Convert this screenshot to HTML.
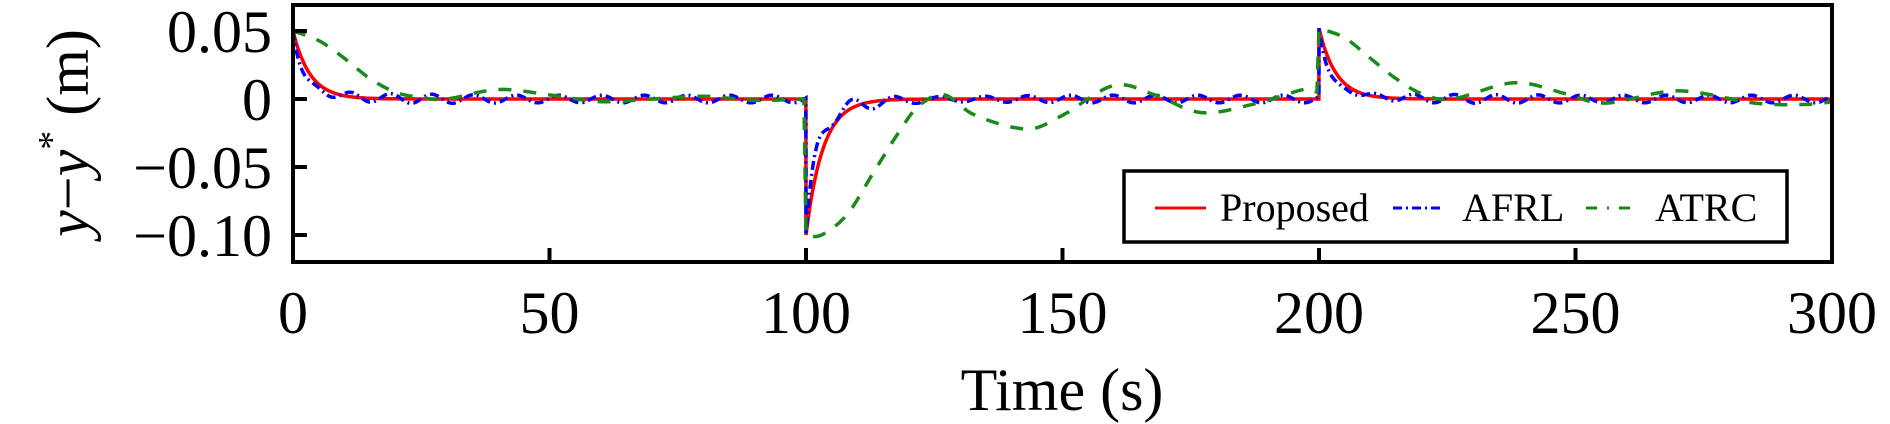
<!DOCTYPE html>
<html><head><meta charset="utf-8">
<style>
html,body{margin:0;padding:0;background:#fff;}
svg{display:block;font-family:"Liberation Serif","Times New Roman",serif;}
</style></head>
<body>
<svg id="c" width="1890" height="424" viewBox="0 0 1890 424" xmlns="http://www.w3.org/2000/svg">
<g id="series"></g>
<rect x="293" y="5" width="1539" height="257" fill="none" stroke="#000" stroke-width="4"/>
<g stroke="#000" stroke-width="4">
<line x1="293" y1="31" x2="307" y2="31"/><line x1="293" y1="99" x2="307" y2="99"/>
<line x1="293" y1="167" x2="307" y2="167"/><line x1="293" y1="235" x2="307" y2="235"/>
<line x1="549.5" y1="262" x2="549.5" y2="248"/><line x1="806" y1="262" x2="806" y2="248"/>
<line x1="1062.5" y1="262" x2="1062.5" y2="248"/><line x1="1319" y1="262" x2="1319" y2="248"/>
<line x1="1575.5" y1="262" x2="1575.5" y2="248"/>
</g>
<g font-size="60" text-anchor="end" fill="#000">
<text x="272" y="52">0.05</text>
<text x="272" y="120">0</text>
<text x="272" y="188">−0.05</text>
<text x="272" y="256">−0.10</text>
</g>
<g font-size="60" text-anchor="middle" fill="#000">
<text x="293" y="333">0</text>
<text x="549.5" y="333">50</text>
<text x="806" y="333">100</text>
<text x="1062.5" y="333">150</text>
<text x="1319" y="333">200</text>
<text x="1575.5" y="333">250</text>
<text x="1832" y="333">300</text>
<text x="1062" y="410">Time (s)</text>
</g>
<text transform="translate(88,133) rotate(-90)" font-size="60" text-anchor="middle" fill="#000"><tspan font-style="italic">y</tspan>−<tspan font-style="italic">y</tspan><tspan font-size="38" dy="-24">*</tspan><tspan dy="24"> (m)</tspan></text>
<rect x="1124" y="171" width="663" height="71" fill="#fff" stroke="#000" stroke-width="3.5"/>
<line x1="1155" y1="208" x2="1206" y2="208" stroke="#ff0000" stroke-width="3"/>
<text x="1220" y="221" font-size="40">Proposed</text>
<line x1="1393" y1="208" x2="1444" y2="208" stroke="#0000ff" stroke-width="3" stroke-dasharray="9,4,2,4"/>
<text x="1462" y="221" font-size="40">AFRL</text>
<line x1="1586" y1="208" x2="1638" y2="208" stroke="#1a8a1a" stroke-width="3" stroke-dasharray="11,10,2,10"/>
<text x="1655" y="221" font-size="40">ATRC</text>
</svg>
<script>
(function(){
var X=function(t){return 293+t*1539/300;};
var Y=function(v){return 99-v*1360;};
function seg(t){ if(t<100) return [0.05,t]; if(t<200) return [-0.1,t-100]; return [0.052,t-200]; }
function prop(t){var a=seg(t);return a[0]*Math.exp(-a[1]/3.3);}
function afrl(t){var a=seg(t),A=a[0],s=a[1];
 var base=A*(0.75*Math.exp(-s/1.6)+0.25*Math.exp(-s/6));
 return base+A*0.08*Math.exp(-s/14)*Math.sin(2*Math.PI*(s-3)/7.5)*(1-Math.exp(-s/3))+0.0028*Math.sin(2*Math.PI*t/8.3)*(1-Math.exp(-s/5));}
var K=[[0,0.05],[5,0.043],[10,0.03],[15,0.015],[20,0.005],[25,0.001],[30,0],[40,0.007],[50,0.003],[60,-0.002],[70,0.0],[80,0.002],[90,-0.001],[99.6,0],
 null,[100,-0.1],[103,-0.1],[108,-0.085],[113,-0.055],[118,-0.025],[122,-0.005],[127,0.003],[133,-0.012],[143,-0.022],[150,-0.012],[160,0.01],[168,0.003],[177,-0.01],[187,-0.004],[197,0.007],[199.6,0.005],
 null,[200,0.052],[205,0.045],[210,0.03],[215,0.015],[220,0.004],[226,0.0],[238,0.012],[248,0.004],[256,-0.003],[270,0.006],[285,-0.003],[295,-0.004],[300,-0.002]];
function cr(pts){var out=[];for(var i=0;i<pts.length-1;i++){var p0=pts[Math.max(0,i-1)],p1=pts[i],p2=pts[i+1],p3=pts[Math.min(pts.length-1,i+2)];
 for(var k=0;k<10;k++){var u=k/10,u2=u*u,u3=u2*u;
  var f=function(j){return 0.5*((2*p1[j])+(-p0[j]+p2[j])*u+(2*p0[j]-5*p1[j]+4*p2[j]-p3[j])*u2+(-p0[j]+3*p1[j]-3*p2[j]+p3[j])*u3);};
  out.push([f(0),f(1)]);}}
 out.push(pts[pts.length-1]);return out;}
var groups=[],cur=[];K.forEach(function(p){if(p===null){groups.push(cur);cur=[];}else cur.push(p);});groups.push(cur);
var atrc=[];groups.forEach(function(g){atrc=atrc.concat(cr(g));});
function fpts(f){var a=[];for(var t=0;t<=300.001;t+=0.25){var tt=t;if(Math.abs(t-100)<0.01)a.push([99.99,f(99.99)]);if(Math.abs(t-200)<0.01)a.push([199.99,f(199.99)]);a.push([tt,f(tt)]);}return a;}
function d(pts){return pts.map(function(p,i){return (i?'L':'M')+X(p[0]).toFixed(1)+' '+Y(p[1]).toFixed(1);}).join('');}
var g=document.getElementById('series'),ns='http://www.w3.org/2000/svg';
function add(pts,col,dash){var p=document.createElementNS(ns,'path');p.setAttribute('d',d(pts));p.setAttribute('fill','none');p.setAttribute('stroke',col);p.setAttribute('stroke-width','3.5');if(dash)p.setAttribute('stroke-dasharray',dash);g.appendChild(p);}
add(fpts(prop),'#ff0000');
add(fpts(afrl),'#0000ff','9,4,2,4');
add(atrc,'#1a8a1a','13,12');
})();
</script>
</body></html>
